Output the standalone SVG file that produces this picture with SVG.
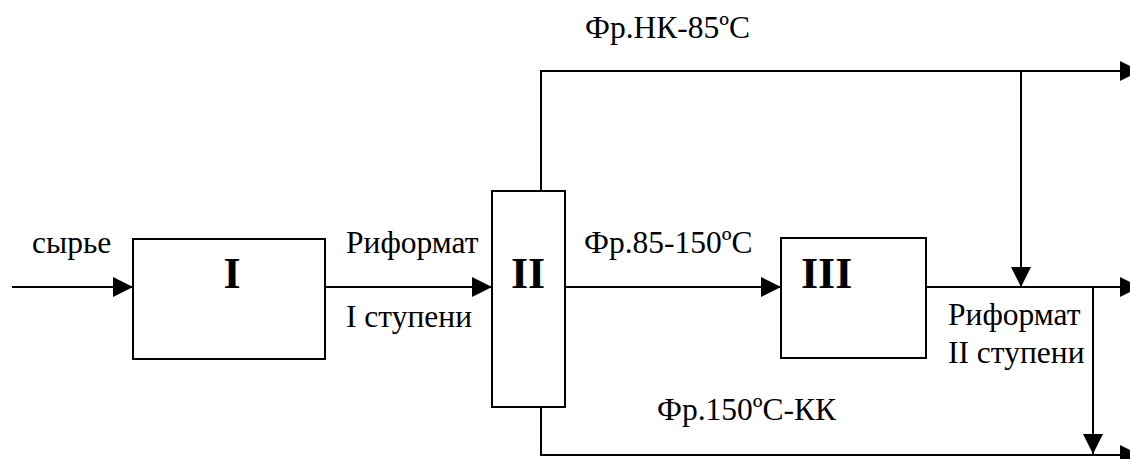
<svg xmlns="http://www.w3.org/2000/svg" width="1130" height="459" viewBox="0 0 1130 459">
<style>
.box{fill:#fff;stroke:#000;stroke-width:2}
.ln{fill:none;stroke:#000;stroke-width:2}
.t{font-family:"Liberation Serif","Times New Roman",serif;font-size:31.5px;fill:#000}
.b{font-family:"Liberation Serif","Times New Roman",serif;font-size:44px;font-weight:bold;fill:#000}
</style>
<defs>
<marker id="ah" markerUnits="userSpaceOnUse" markerWidth="20" markerHeight="20" refX="20" refY="10" orient="auto" viewBox="0 0 20 20">
<path d="M0,0 L20,10 L0,20 z" fill="#000"/>
</marker>
</defs>
<rect width="1130" height="459" fill="#fff"/>
<g id="connectors">
<line class="ln" x1="12" y1="287" x2="133" y2="287" marker-end="url(#ah)"/>
<line class="ln" x1="326" y1="287" x2="492" y2="287" marker-end="url(#ah)"/>
<line class="ln" x1="565" y1="287" x2="781" y2="287" marker-end="url(#ah)"/>
<polyline class="ln" points="541,191 541,71 1140,71" marker-end="url(#ah)"/>
<line class="ln" x1="1021" y1="71" x2="1021" y2="287" marker-end="url(#ah)"/>
<line class="ln" x1="926" y1="287" x2="1140" y2="287" marker-end="url(#ah)"/>
<line class="ln" x1="1093" y1="287" x2="1093" y2="454" marker-end="url(#ah)"/>
<polyline class="ln" points="541,407 541,455 1140,455" marker-end="url(#ah)"/>
</g>
<g id="node-I">
<rect class="box" x="133" y="239" width="192" height="120"/>
<text class="b" x="232" y="288" text-anchor="middle">I</text>
</g>
<g id="node-II">
<rect class="box" x="492" y="191" width="73" height="216"/>
<text class="b" x="528" y="288" text-anchor="middle">II</text>
</g>
<g id="node-III">
<rect class="box" x="781" y="238" width="145" height="120"/>
<text class="b" x="801" y="288">III</text>
</g>
<g id="labels">
<text class="t" x="32" y="253">сырье</text>
<text class="t" x="346" y="253">Риформат</text>
<text class="t" x="346" y="327">I ступени</text>
<text class="t" x="585" y="38">Фр.НК-85ºС</text>
<text class="t" x="584" y="253">Фр.85-150ºС</text>
<text class="t" x="948" y="325">Риформат</text>
<text class="t" x="948" y="363">II ступени</text>
<text class="t" x="657" y="420">Фр.150ºС-КК</text>
</g>
</svg>
